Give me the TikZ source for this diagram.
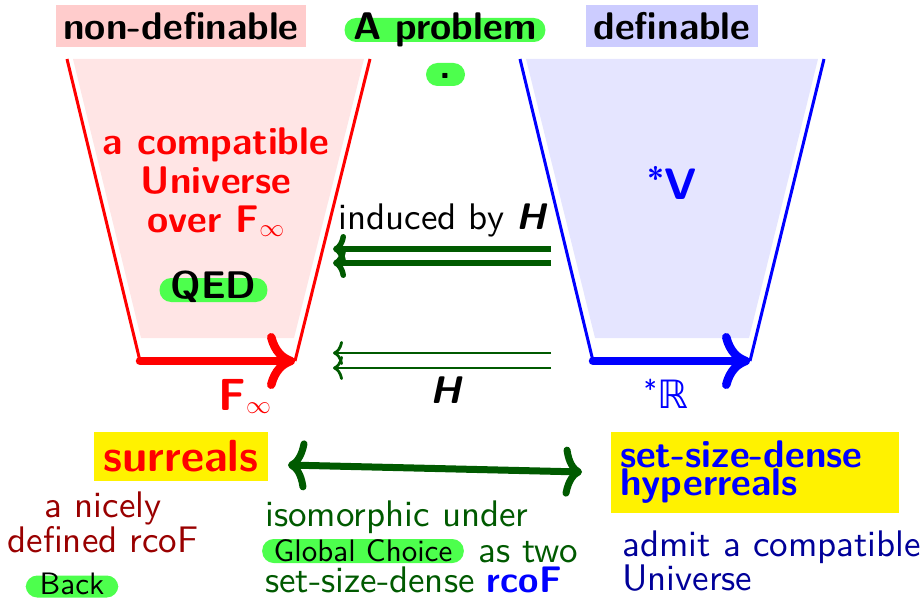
\documentclass[tikz,border=0pt]{standalone}
\usepackage{fontspec}
\setsansfont{lmsans10-regular}[Extension=.otf, BoldFont=lmsans10-bold, ItalicFont=lmsans10-oblique, BoldItalicFont=lmsans10-boldoblique]
\newfontfamily\djv{DejaVu Sans}
\usetikzlibrary{arrows.meta}
\definecolor{pillgreen}{RGB}{77,255,77}
\definecolor{dgreen}{RGB}{0,90,0}
\definecolor{dred}{RGB}{153,0,0}
\definecolor{navy}{RGB}{0,0,153}
\definecolor{pinkbox}{RGB}{255,204,204}
\definecolor{lavbox}{RGB}{204,204,255}
\definecolor{pinkfill}{RGB}{255,229,229}
\definecolor{lavfill}{RGB}{229,229,255}
\newcommand{\myfs}[2]{\fontsize{#1}{#2}\selectfont}
\begin{document}
\begin{tikzpicture}[x=1pt,y=-1pt,
  every node/.style={font=\sffamily\myfs{37}{39}, inner sep=0pt},
  boldfont/.style={font=\sffamily\myfs{38.5}{39}\bfseries},
  pill/.style={fill=pillgreen, rounded corners=11.5pt, inner ysep=0pt},
  headbox/.style={inner sep=0pt, minimum height=42pt, boldfont},
  bigtip/.style={line width=8.5pt, line cap=round, -{Computer Modern Rightarrow[length=28pt,width=56pt,round]}},
  thicktip/.style={dgreen, line width=5.5pt, -{Computer Modern Rightarrow[length=13pt,width=30pt,round]}},
  thintip/.style={dgreen, line width=2.8pt, -{Computer Modern Rightarrow[length=10pt,width=24pt]}},
  isotip/.style={dgreen, line width=7pt, {Computer Modern Rightarrow[length=19pt,width=50pt,round]}-{Computer Modern Rightarrow[length=19pt,width=50pt,round]}}
]
\useasboundingbox (0,0) rectangle (924,599);

% header boxes
\node[headbox, fill=pinkbox, minimum width=250pt] (nondef) at (181,26) {non-definable};
\node[headbox, fill=lavbox, minimum width=172pt] (def) at (672,26) {definable};
\node[pill, boldfont, text height=22pt, text depth=2pt, inner xsep=9pt] (aprob) at (445,30) {A problem};
\node[pill, boldfont, text height=16pt, text depth=7pt, minimum width=39pt] (dot) at (445.5,74.5) {.};

% left funnel
\fill[pinkfill] (73,59) -- (364,59) -- (294,338) -- (141,338) -- cycle;
\coordinate (lt1) at (67,59); \coordinate (lb1) at (140,361);
\coordinate (lt2) at (370,59); \coordinate (lb2) at (295,361);
\draw[red, line width=3pt] (lt1) -- (lb1);
\draw[red, line width=3pt] (lt2) -- (lb2);
\draw[red, bigtip] (lb1) -- (lb2);

% right funnel
\fill[lavfill] (526,59) -- (818,59) -- (749,338) -- (595,338) -- cycle;
\coordinate (rt1) at (520,59); \coordinate (rb1) at (593,361);
\coordinate (rt2) at (824,59); \coordinate (rb2) at (750,361);
\draw[blue, line width=3pt] (rt1) -- (rb1);
\draw[blue, line width=3pt] (rt2) -- (rb2);
\draw[blue, bigtip] (rb1) -- (rb2);

% funnel texts
\node[anchor=north, align=center, text=red, boldfont] (univ) at (216,128) {a compatible\\Universe\\over F$_\infty$};
\node[pill, boldfont, text height=20pt, text depth=4pt, inner xsep=11pt] (qed) at (213.5,290) {QED};
\node[anchor=base, text=blue, font=\sffamily\myfs{44}{46}\bfseries] (sv) at (672,199) {\textsuperscript{*}V};
\node[anchor=base, text=red, font=\sffamily\myfs{45}{46}\bfseries] (finf) at (245,410) {F$_\infty$};
\node[anchor=base, text=blue] (sr) at (666,408) {\textsuperscript{*}{\djv\myfs{39}{40}ℝ}};

% middle arrows
\coordinate (a1s) at (551,249); \coordinate (a1e) at (333,249);
\coordinate (a2s) at (551,263); \coordinate (a2e) at (333,263);
\coordinate (b1s) at (551,353); \coordinate (b1e) at (333,353);
\coordinate (b2s) at (551,368); \coordinate (b2e) at (333,368);
\draw[thicktip] (a1s) -- (a1e);
\draw[thicktip] (a2s) -- (a2e);
\draw[thintip] (b1s) -- (b1e);
\draw[thintip] (b2s) -- (b2e);
\node[anchor=base] (ind) at (443,229) {induced by \textbf{\textit{H}}};
\node[anchor=base, font=\sffamily\myfs{38.5}{39}\bfseries\itshape] (hlab) at (446,403) {H};

% bottom
\node[fill=yellow, minimum width=174pt, minimum height=49pt, text=red, font=\sffamily\myfs{45}{46}\bfseries] (sur) at (181,456.5) {surreals};
\node[fill=yellow, text width=270pt, inner xsep=9pt, inner ysep=0pt, minimum height=81pt, align=left, text=blue, font=\sffamily\myfs{38.5}{26.5}\bfseries] (hyp) at (755,472.5) {set-size-dense\\hyperreals};
\coordinate (isoL) at (288,465); \coordinate (isoR) at (582,472);
\draw[isotip] (isoL) -- (isoR);

\node[anchor=north, align=center, text=dred, font=\sffamily\myfs{37}{30}] (nice) at (103,492) {a nicely\\defined rcoF};
\node[pill, font=\sffamily\myfs{31}{33}, text height=19pt, text depth=3pt, inner xsep=14pt] (back) at (72,586.5) {Back};

\node[anchor=base west, text=dgreen] (iso1) at (265,526) {isomorphic under};
\node[pill, font=\sffamily\myfs{31}{33}, text height=22.7pt, text depth=1.3pt, inner xsep=11.5pt] (gc) at (363,551) {Global Choice};
\node[anchor=base west, text=dgreen] (astwo) at (478,562) {as two};
\node[anchor=base west, text=dgreen] (ssd) at (265,592) {set-size-dense \textcolor{blue}{\bfseries rcoF}};

\node[anchor=north west, align=left, text=navy, font=\sffamily\myfs{37}{31}] (admit) at (622,531) {admit a compatible\\Universe};
\end{tikzpicture}
\end{document}
